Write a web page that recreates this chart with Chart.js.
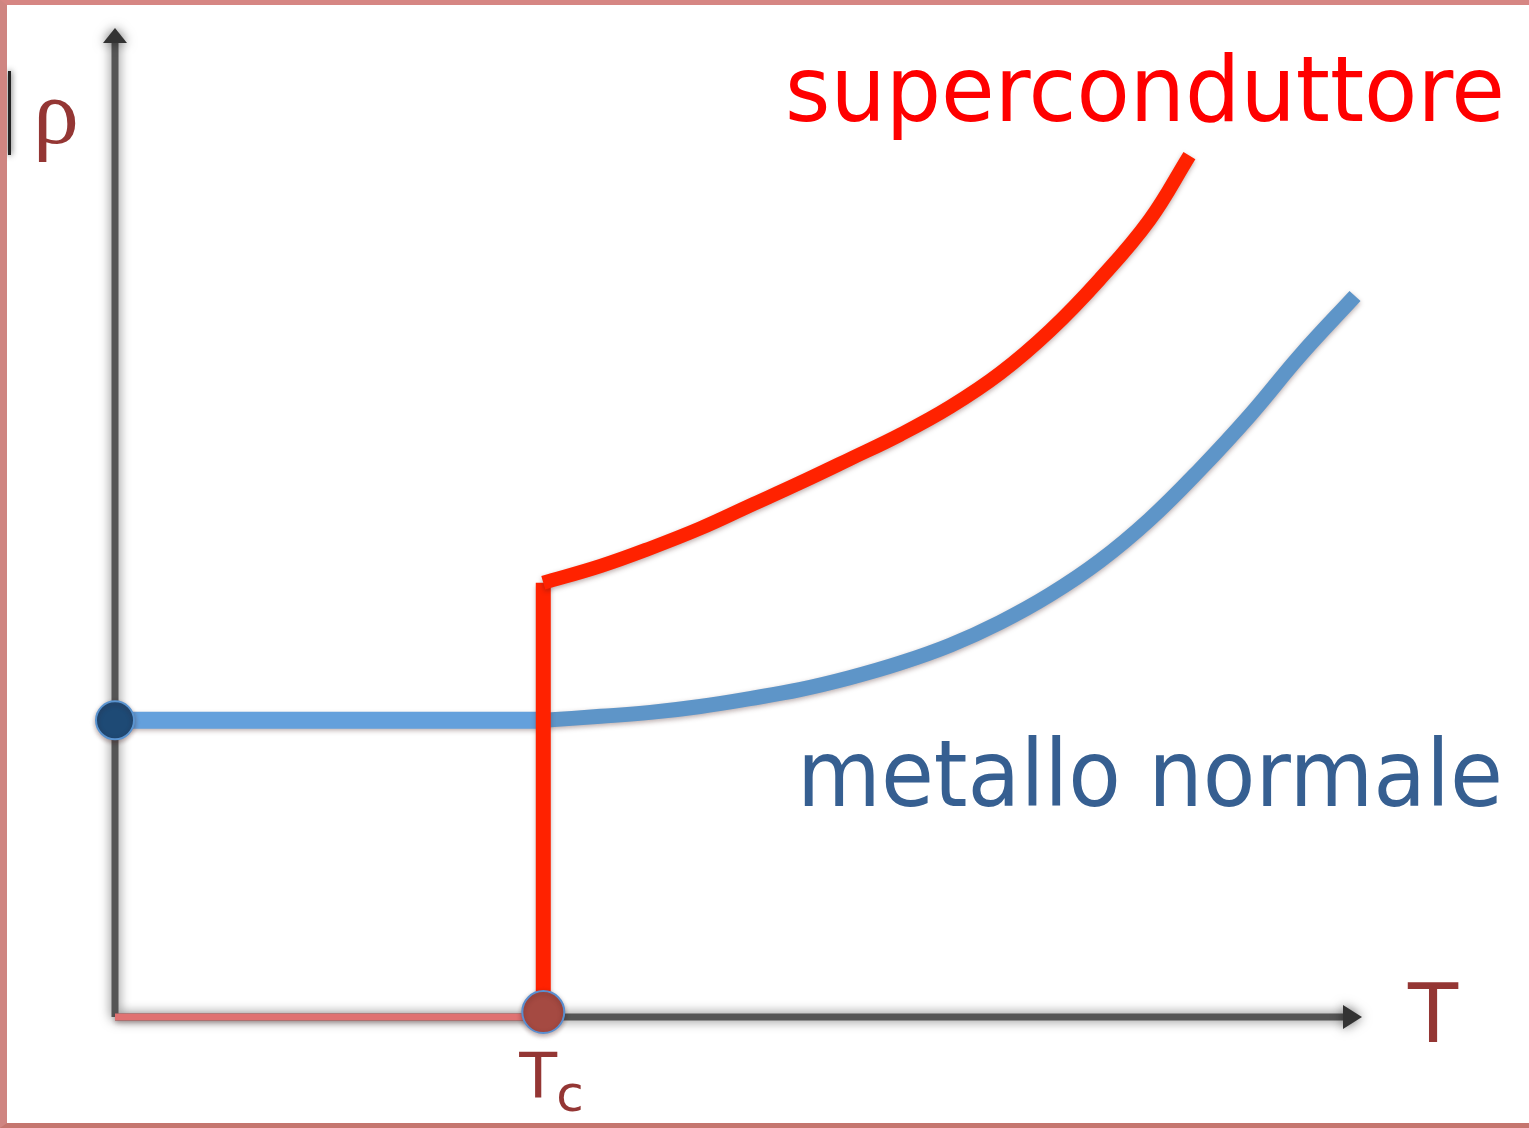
<!DOCTYPE html>
<html>
<head>
<meta charset="utf-8">
<script src="https://cdn.jsdelivr.net/npm/chart.js@4"></script>
<style>
  html, body { margin: 0; padding: 0; background: #fff; }
  #wrap { position: relative; width: 1529px; height: 1128px; box-sizing: border-box;
          border-top: 5px solid #d68683; border-left: 7px solid #cf8581; border-bottom: 5px solid #c5766f; }
  canvas { display: block; }
</style>
</head>
<body>
<div id="wrap"><canvas id="chart" width="1522" height="1118"></canvas></div>
<script>
// values in arbitrary units
const Tc = 3.44;
const rho0 = 3.0;

const plateauT = [0, 3.44];
const plateauRho = [3.0, 3.0];

const metalT =   [3.44, 3.90, 4.30, 4.70, 5.10, 5.50, 5.90, 6.31, 6.71, 7.11, 7.51, 7.91, 8.31, 8.71, 9.12, 9.52, 9.96];
const metalRho = [3.00, 3.04, 3.08, 3.14, 3.22, 3.31, 3.43, 3.58, 3.76, 3.99, 4.27, 4.61, 5.03, 5.53, 6.09, 6.69, 7.29];

const dropT =   [3.44, 3.44];
const dropRho = [0.17, 4.39];

const superT =   [3.44, 3.90, 4.30, 4.70, 5.10, 5.50, 5.90, 6.31, 6.71, 7.11, 7.51, 7.91, 8.31, 8.63];
const superRho = [4.39, 4.56, 4.74, 4.94, 5.17, 5.40, 5.64, 5.89, 6.17, 6.51, 6.94, 7.46, 8.06, 8.71];

const zeroT = [0, 3.44];
const zeroRho = [0, 0];

const xy = (xs, ys) => xs.map((x, i) => ({x, y: ys[i]}));

// axes with arrows, drawn on the chart area edges
const axesPlugin = {
  id: 'arrowAxes',
  beforeDatasetsDraw(chart) {
    const {ctx, chartArea: a} = chart;
    ctx.save();
    ctx.shadowColor = 'rgba(0,0,0,0.55)';
    ctx.shadowBlur = 12;
    ctx.strokeStyle = '#555';
    ctx.fillStyle = '#333';
    ctx.lineWidth = 7;
    ctx.beginPath();
    ctx.moveTo(a.left, a.bottom);
    ctx.lineTo(a.left, a.top + 10);
    ctx.moveTo(a.left, a.bottom);
    ctx.lineTo(a.right - 12, a.bottom);
    ctx.stroke();
    ctx.beginPath();
    ctx.moveTo(a.left, a.top);
    ctx.lineTo(a.left - 12, a.top + 15);
    ctx.lineTo(a.left + 12, a.top + 15);
    ctx.closePath();
    ctx.fill();
    ctx.beginPath();
    ctx.moveTo(a.right + 2, a.bottom);
    ctx.lineTo(a.right - 17, a.bottom - 12);
    ctx.lineTo(a.right - 17, a.bottom + 12);
    ctx.closePath();
    ctx.fill();
    ctx.restore();
  },
  afterDraw(chart) {
    const {ctx} = chart;
    const xs = chart.scales.x;
    ctx.save();
    // dark smudge at the left edge
    ctx.fillStyle = '#222';
    ctx.shadowColor = 'rgba(0,0,0,0.8)';
    ctx.shadowBlur = 6;
    ctx.fillRect(1, 66, 3, 84);
    ctx.shadowBlur = 0;

    ctx.textBaseline = 'alphabetic';
    ctx.textAlign = 'left';
    ctx.fillStyle = '#ff0000';
    ctx.font = '90px "DejaVu Sans"';
    ctx.fillText('superconduttore', 778, 116, 720);

    ctx.fillStyle = '#365f91';
    ctx.font = '92px "DejaVu Sans"';
    ctx.fillText('metallo normale', 790, 801, 706);

    ctx.fillStyle = '#943634';
    ctx.font = '92px "Liberation Serif"';
    ctx.fillText('ρ', 26, 138);

    ctx.font = '82px "DejaVu Sans"';
    ctx.fillText('T', 1401, 1037);

    const tx = xs.getPixelForValue(Tc);
    ctx.font = '62px "DejaVu Sans"';
    ctx.fillText('T', tx - 24, 1092);
    ctx.font = '50px "DejaVu Sans"';
    ctx.fillText('c', tx + 13, 1106);
    ctx.restore();
  }
};

const shadowPlugin = {
  id: 'lineShadow',
  beforeDatasetDraw(chart) {
    chart.ctx.save();
    chart.ctx.shadowColor = 'rgba(60,20,20,0.35)';
    chart.ctx.shadowBlur = 5;
    chart.ctx.shadowOffsetY = 2;
  },
  afterDatasetDraw(chart) {
    chart.ctx.restore();
  }
};

new Chart(document.getElementById('chart').getContext('2d'), {
  type: 'scatter',
  data: {
    datasets: [
      {label: 'zero', data: xy(zeroT, zeroRho), showLine: true, borderColor: '#e07272', borderWidth: 7, pointRadius: 0, order: 6},
      {label: 'plateau', data: xy(plateauT, plateauRho), showLine: true, borderColor: '#64a0dc', borderWidth: 17, pointRadius: 0, order: 5},
      {label: 'metallo normale', data: xy(metalT, metalRho), showLine: true, borderColor: '#5e95c8', borderWidth: 15,
       pointRadius: 0, tension: 0.4, order: 4},
      {label: 'drop', data: xy(dropT, dropRho), showLine: true, borderColor: '#ff2200', borderWidth: 15, pointRadius: 0, order: 3},
      {label: 'superconduttore', data: xy(superT, superRho), showLine: true, borderColor: '#ff2200', borderWidth: 14,
       pointRadius: 0, tension: 0.4, order: 2},
      {label: 'rho0', data: [{x: 0, y: rho0}], pointRadius: 19, pointBackgroundColor: '#1e4a75',
       pointBorderColor: '#5a94d0', pointBorderWidth: 2, order: 1},
      {label: 'Tc', data: [{x: Tc, y: 0.05}], pointRadius: 21, pointBackgroundColor: '#a54a42',
       pointBorderColor: '#5a8fd0', pointBorderWidth: 2, order: 0}
    ]
  },
  options: {
    responsive: false,
    animation: false,
    events: [],
    layout: {padding: {left: 108, right: 169, top: 17, bottom: 106}},
    plugins: {legend: {display: false}, tooltip: {enabled: false}},
    scales: {
      x: {type: 'linear', min: 0, max: 10, display: false},
      y: {type: 'linear', min: 0, max: 10, display: false}
    },
    clip: false
  },
  plugins: [axesPlugin, shadowPlugin]
});
</script>
</body>
</html>
